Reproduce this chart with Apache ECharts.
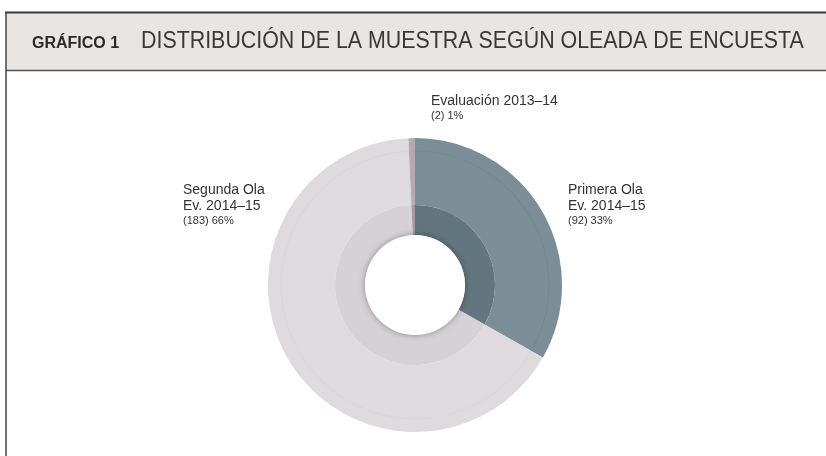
<!DOCTYPE html>
<html>
<head>
<meta charset="utf-8">
<script src="https://cdn.jsdelivr.net/npm/echarts@6/dist/echarts.min.js"></script>
<style>
  html, body { margin: 0; padding: 0; background: #fff; }
  #chart { width: 826px; height: 456px; }
</style>
</head>
<body>
<div id="chart"></div>
<script>
(function () {
  const chart = echarts.init(document.getElementById("chart"), null, { renderer: "canvas" });

  const names = ["Primera Ola\nEv. 2014–15", "Segunda Ola\nEv. 2014–15", "Evaluación 2013–14"];
  const counts = [92, 183, 2];
  const pcts = [33, 66, 1];

  const outerColors = ["#7b8d96", "#dedadd", "#b6a9b0"];
  const innerColors = ["#62767f", "#d6d1d4", "#a8999f"];

  // label anchor (left x, top y) for each slice
  const labelPos = [[568, 182], [183, 182], [431, 93]];

  const font = "'Liberation Sans', Arial, sans-serif";
  const center = [415, 285];

  function ringData(colors) {
    return names.map((n, i) => ({ name: n, value: counts[i], itemStyle: { color: colors[i] } }));
  }

  chart.setOption({
    animation: false,
    graphic: [
      { type: "rect", shape: { x: 6, y: 13, width: 830, height: 57 }, style: { fill: "#e8e5e3" }, silent: true },
      { type: "line", shape: { x1: 5, y1: 12.5, x2: 826, y2: 12.5 }, style: { stroke: "#3d3d3d", lineWidth: 2 } },
      { type: "line", shape: { x1: 6, y1: 70.5, x2: 826, y2: 70.5 }, style: { stroke: "#555", lineWidth: 1.5 } },
      { type: "line", shape: { x1: 6, y1: 12, x2: 6, y2: 456 }, style: { stroke: "#444", lineWidth: 1.5 } },
      {
        type: "text", x: 32, y: 36,
        style: { text: "GRÁFICO 1", font: "bold 16px " + font, fill: "#2a2a2a" },
      },
      {
        type: "text", x: 141, y: 30, scaleX: 0.93,
        style: { text: "DISTRIBUCIÓN DE LA MUESTRA SEGÚN OLEADA DE ENCUESTA", font: "23px " + font, fill: "#383838" },
      },
    ],
    series: [
      {
        type: "pie",
        center,
        radius: [80, 147],
        startAngle: 90,
        clockwise: true,
        silent: true,
        data: ringData(outerColors),
        label: {
          show: true,
          position: "outside",
          formatter: (p) => "{a|" + names[p.dataIndex] + "}\n{b|(" + counts[p.dataIndex] + ") " + pcts[p.dataIndex] + "%}",
          rich: {
            a: { fontFamily: font, fontSize: 14, lineHeight: 16, color: "#333" },
            b: { fontFamily: font, fontSize: 11, lineHeight: 14, color: "#333" },
          },
        },
        labelLine: { show: false },
        labelLayout: (p) => ({
          x: labelPos[p.dataIndex][0],
          y: labelPos[p.dataIndex][1],
          align: "left",
          verticalAlign: "top",
        }),
      },
      {
        type: "pie",
        center,
        radius: [133.5, 134.3],
        startAngle: 90,
        silent: true,
        data: ringData(["#74858e", "#d8d4d7", "#b6a9b0"]),
        label: { show: false },
        labelLine: { show: false },
      },
      {
        type: "pie",
        center,
        radius: [50, 80],
        startAngle: 90,
        silent: true,
        data: ringData(innerColors),
        label: { show: false },
        labelLine: { show: false },
      },
      {
        type: "pie",
        center,
        radius: [0, 50],
        silent: true,
        data: [{ value: 1, itemStyle: { color: "#ffffff", shadowBlur: 6, shadowColor: "rgba(0,0,0,0.35)" } }],
        label: { show: false },
        labelLine: { show: false },
      },
    ],
  });

  window.addEventListener("resize", () => chart.resize());
})();
</script>
</body>
</html>
